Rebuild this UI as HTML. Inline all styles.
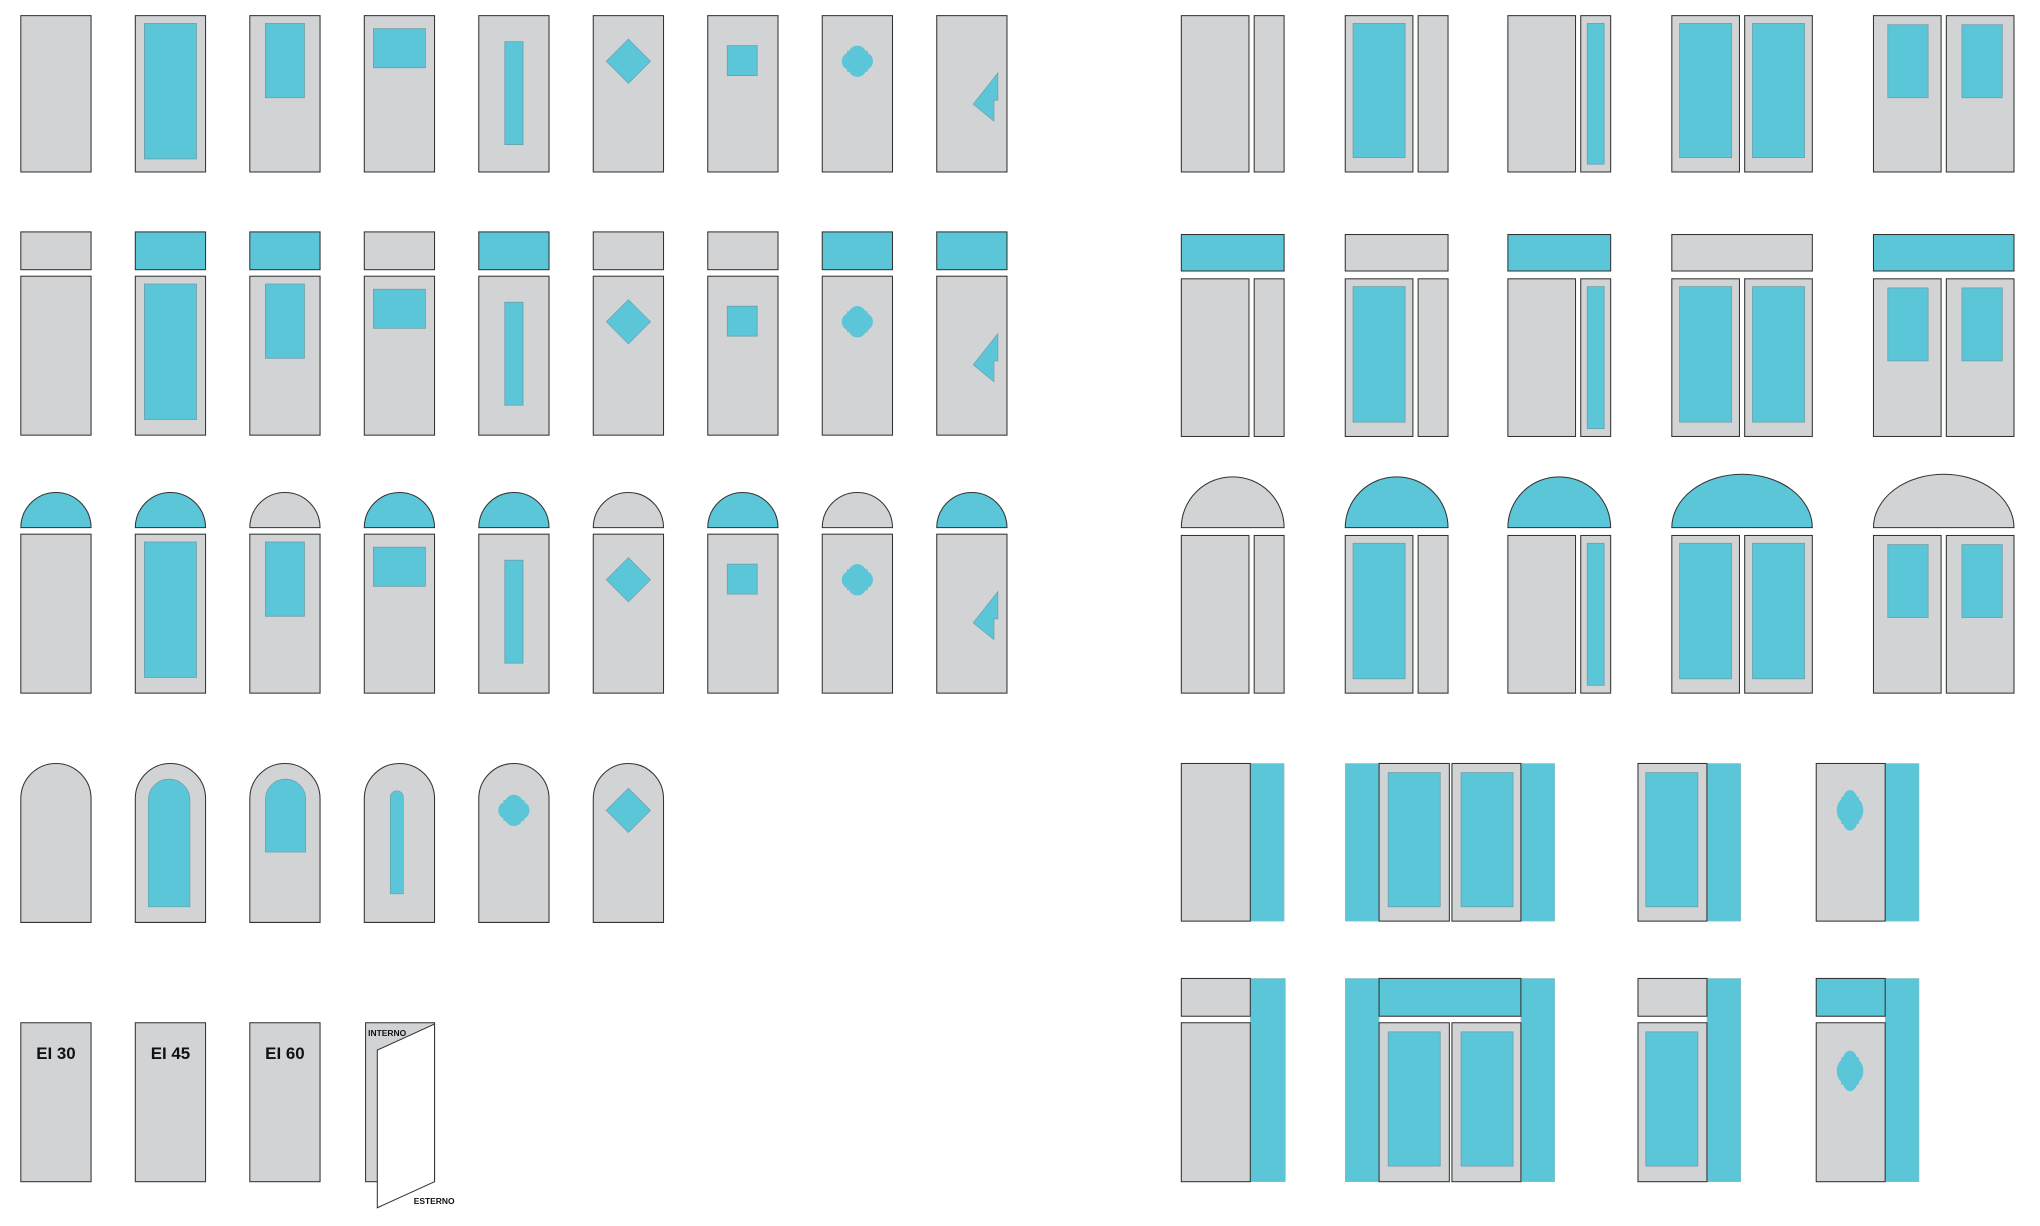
<!DOCTYPE html>
<html><head><meta charset="utf-8"><style>
html,body{margin:0;padding:0;background:#fff;width:2040px;height:1226px;overflow:hidden}
svg{display:block}
text{font-family:"Liberation Sans",sans-serif;font-weight:bold;fill:#111}
</style></head><body>
<svg id="s" width="2040" height="1226" viewBox="0 0 1568 941" preserveAspectRatio="none" xmlns="http://www.w3.org/2000/svg">
<g id="g"></g>
<text x="43" y="813" font-size="13" text-anchor="middle">EI 30</text>
<text x="131" y="813" font-size="13" text-anchor="middle">EI 45</text>
<text x="219" y="813" font-size="13" text-anchor="middle">EI 60</text>
<text x="283" y="795" font-size="6.5">INTERNO</text>
<text x="318" y="924" font-size="6.5">ESTERNO</text>
</svg>
<script>
var G='#d1d3d5',B='#5bc6d8',S='#333',GS='#6b9ea8';
var o='';
function R(x,y,w,h,f,s,sw){o+='<rect x="'+x+'" y="'+y+'" width="'+w+'" height="'+h+'" fill="'+f+'" stroke="'+(s||S)+'" stroke-width="'+(sw||0.8)+'"/>';}
function P(d,f,s,sw){o+='<path d="'+d+'" fill="'+f+'" stroke="'+(s||S)+'" stroke-width="'+(sw||0.8)+'"/>';}
function glass(x,y,w,h){R(x,y,w,h,B,GS,0.6);}
function diamond(cx,cy){P('M'+cx+' '+(cy-17)+'L'+(cx+17)+' '+cy+'L'+cx+' '+(cy+17)+'L'+(cx-17)+' '+cy+'Z',B,GS,0.5);}
function quat(cx,cy,sx,sy){sx=sx||1;sy=sy||1;
 o+='<g fill="'+B+'" stroke="none">';
 o+='<ellipse cx="'+cx+'" cy="'+(cy-5*sy)+'" rx="'+7*sx+'" ry="'+7*sy+'"/><ellipse cx="'+cx+'" cy="'+(cy+5*sy)+'" rx="'+7*sx+'" ry="'+7*sy+'"/>';
 o+='<ellipse cx="'+(cx-5*sx)+'" cy="'+cy+'" rx="'+7*sx+'" ry="'+7*sy+'"/><ellipse cx="'+(cx+5*sx)+'" cy="'+cy+'" rx="'+7*sx+'" ry="'+7*sy+'"/>';
 o+='<rect x="'+(cx-8*sx)+'" y="'+(cy-8*sy)+'" width="'+16*sx+'" height="'+16*sy+'"/></g>';}
function pattern(t,x,y){
 if(t==1)glass(x+7,y+6,40,104);
 if(t==2)glass(x+12,y+6,30,57);
 if(t==3)glass(x+7,y+10,40,30);
 if(t==4)glass(x+20,y+20,14,79);
 if(t==5)diamond(x+27,y+35);
 if(t==6)glass(x+15,y+23,23,23);
 if(t==7)quat(x+27,y+35);
 if(t==8)P('M'+(x+28)+' '+(y+68)+'L'+(x+47)+' '+(y+44)+'L'+(x+47)+' '+(y+65)+'L'+(x+44)+' '+(y+65)+'L'+(x+44)+' '+(y+81)+'Z',B,GS,0.5);
}
var xs=[16,104,192,280,368,456,544,632,720];
xs.forEach(function(x,i){R(x,12,54,120,G);pattern(i,x,12);});
var tc=[G,B,B,G,B,G,G,B,B];
xs.forEach(function(x,i){R(x,178,54,29,tc[i]);R(x,212,54,122,G);pattern(i,x,212);});
var ac=[B,B,G,B,B,G,B,G,B];
xs.forEach(function(x,i){P('M'+x+' 405A27 27 0 0 1 '+(x+54)+' 405Z',ac[i]);R(x,410,54,122,G);pattern(i,x,410);});
function arch(x,y,w,h,f,s,sw){var r=w/2;P('M'+x+' '+(y+h)+'L'+x+' '+(y+r)+'A'+r+' '+r+' 0 0 1 '+(x+w)+' '+(y+r)+'L'+(x+w)+' '+(y+h)+'Z',f,s,sw);}
for(var i=0;i<6;i++){var x=xs[i];arch(x,586,54,122,G);
 if(i==1)arch(x+10,598,32,98,B,GS,0.5);
 if(i==2)arch(x+12,598,31,56,B,GS,0.5);
 if(i==3)arch(x+20,607,10,79,B,GS,0.5);
 if(i==4)quat(x+27,622);
 if(i==5)diamond(x+27,622);}
[16,104,192].forEach(function(x){R(x,785,54,122,G);});
R(281,785,53,122,G);
P('M290 806L334 786L334 907L290 927Z','#fff');
function grp(x0,y,h,g){
 if(g==0){R(908,y,52,h,G);R(964,y,23,h,G);}
 if(g==1){R(1034,y,52,h,G);glass(1040,y+6,40,h-17);R(1090,y,23,h,G);}
 if(g==2){R(1159,y,52,h,G);R(1215,y,23,h,G);glass(1220,y+6,13,h-12);}
 if(g==3){R(1285,y,52,h,G);R(1341,y,52,h,G);glass(1291,y+6,40,h-17);glass(1347,y+6,40,h-17);}
 if(g==4){R(1440,y,52,h,G);R(1496,y,52,h,G);glass(1451,y+7,31,56);glass(1508,y+7,31,56);}
}
var gx=[[908,987],[1034,1113],[1159,1238],[1285,1393],[1440,1548]];
for(var g=0;g<5;g++)grp(0,12,120,g);
var rt=[B,G,B,G,B];
for(var g=0;g<5;g++){R(gx[g][0],180,gx[g][1]-gx[g][0],28,rt[g]);grp(0,214,121,g);}
var ra=[G,B,B,B,G];
for(var g=0;g<5;g++){var a=gx[g][0],b=gx[g][1],rx=(b-a)/2,ry=(g>=3?41:39);
 P('M'+a+' 405A'+rx+' '+ry+' 0 0 1 '+b+' 405Z',ra[g]);grp(0,411,121,g);}
R(961,586,26,121,B,'#9bb',0.4);R(908,586,53,121,G);
R(1034,586,26,121,B,'#9bb',0.4);R(1169,586,26,121,B,'#9bb',0.4);
R(1060,586,54,121,G);R(1116,586,53,121,G);glass(1067,593,40,103);glass(1123,593,40,103);
R(1312,586,26,121,B,'#9bb',0.4);R(1259,586,53,121,G);glass(1265,593,40,103);
R(1449,586,26,121,B,'#9bb',0.4);R(1396,586,53,121,G);quat(1422,622,0.85,1.3);
R(961,751,27,156,B,'#9bb',0.4);R(908,751,53,29,G);R(908,785,53,122,G);
R(1034,751,26,156,B,'#9bb',0.4);R(1169,751,26,156,B,'#9bb',0.4);
R(1060,751,109,29,B);R(1060,785,54,122,G);R(1116,785,53,122,G);glass(1067,792,40,103);glass(1123,792,40,103);
R(1312,751,26,156,B,'#9bb',0.4);R(1259,751,53,29,G);R(1259,785,53,122,G);glass(1265,792,40,103);
R(1449,751,26,156,B,'#9bb',0.4);R(1396,751,53,29,B);R(1396,785,53,122,G);quat(1422,822,0.85,1.3);
document.getElementById('g').innerHTML=o;
</script>
</body></html>
